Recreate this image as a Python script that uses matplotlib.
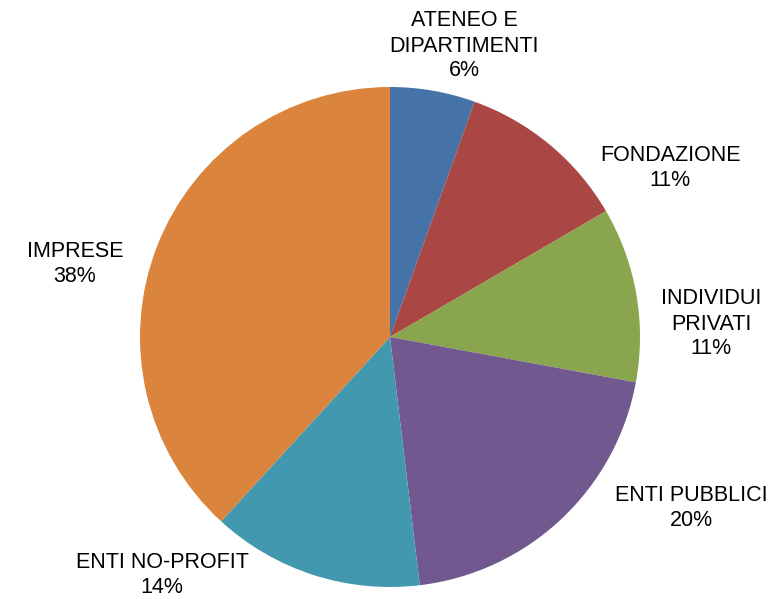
import matplotlib
matplotlib.use("Agg")
import matplotlib.pyplot as plt

categories = ["ATENEO E\nDIPARTIMENTI", "FONDAZIONE", "INDIVIDUI\nPRIVATI",
              "ENTI PUBBLICI", "ENTI NO-PROFIT", "IMPRESE"]
values = [5.5, 11.1, 11.3, 20.2, 13.7, 38.2]
pct_labels = ["6%", "11%", "11%", "20%", "14%", "38%"]
colors = ["#4572A7", "#AA4643", "#89A54E", "#71588F", "#4198AF", "#DB843D"]

W, H = 774, 599
fig = plt.figure(figsize=(W / 100, H / 100), dpi=100)
ax = fig.add_axes([0, 0, 1, 1])
cx, cy, R = 390, H - 337, 250
ax.pie(values, colors=colors, startangle=90, counterclock=False,
       center=(cx, cy), radius=R, frame=False,
       wedgeprops=dict(linewidth=0))
ax.set_xlim(0, W)
ax.set_ylim(0, H)
ax.set_aspect("equal")
ax.axis("off")

# label positions (pixel coords from top-left)
label_pos = [(464, 46), (670, 168), (711, 324), (691, 508), (162, 575), (75, 264)]
for cat, pct, (x, y) in zip(categories, pct_labels, label_pos):
    ax.text(x, H - y, f"{cat}\n{pct}", ha="center", va="center",
            fontsize=15.5, family="Liberation Sans", linespacing=1.25)

fig.savefig("out.png", dpi=100)
